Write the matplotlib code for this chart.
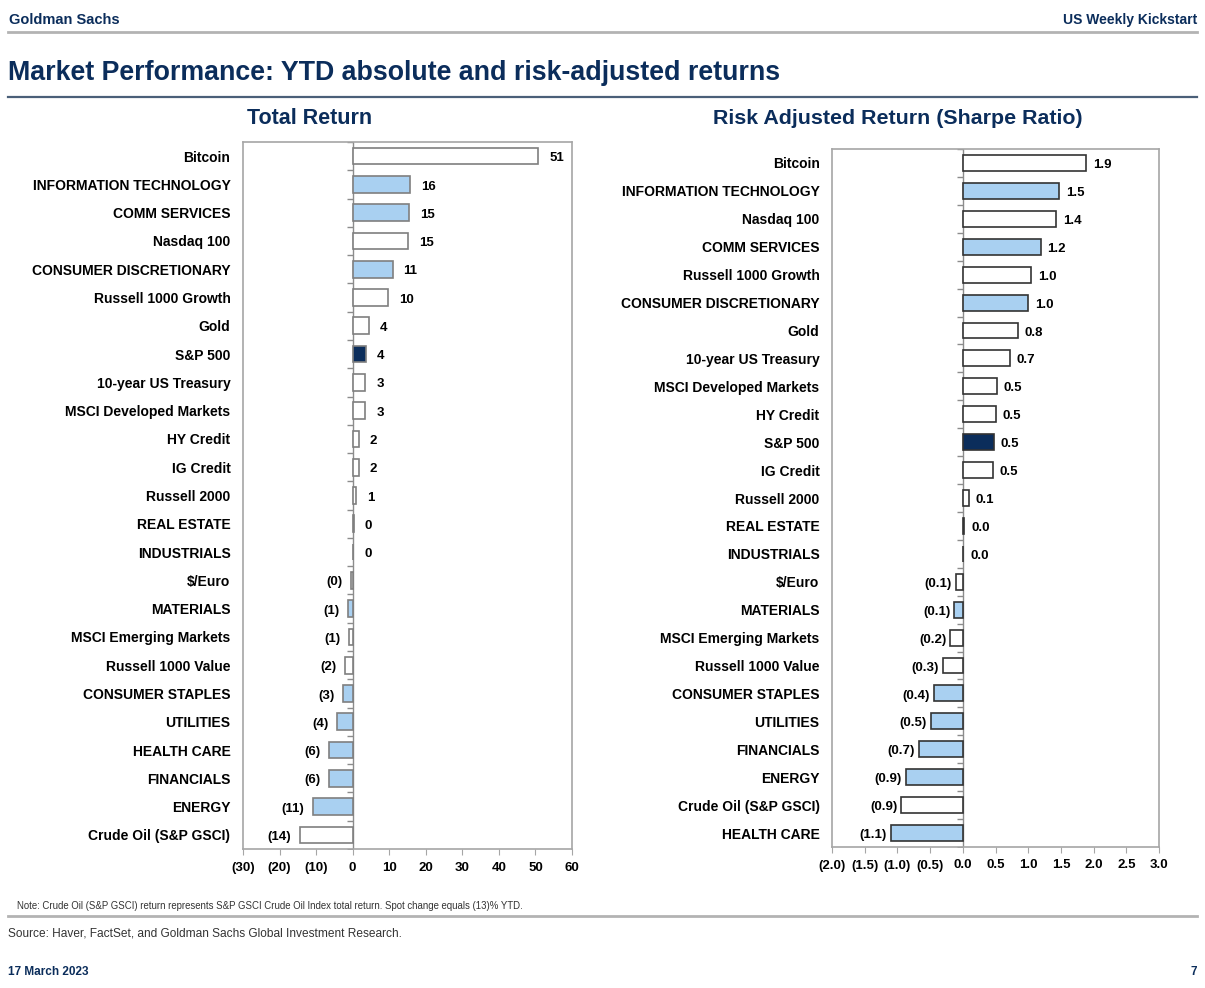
import matplotlib
matplotlib.use("Agg")
import matplotlib.pyplot as plt
import matplotlib.lines as mlines
import numpy as np

# ---------------- data ----------------
tr_categories = ["Bitcoin", "INFORMATION TECHNOLOGY", "COMM SERVICES", "Nasdaq 100",
                 "CONSUMER DISCRETIONARY", "Russell 1000 Growth", "Gold", "S&P 500",
                 "10-year US Treasury", "MSCI Developed Markets", "HY Credit", "IG Credit",
                 "Russell 2000", "REAL ESTATE", "INDUSTRIALS", "$/Euro", "MATERIALS",
                 "MSCI Emerging Markets", "Russell 1000 Value", "CONSUMER STAPLES",
                 "UTILITIES", "HEALTH CARE", "FINANCIALS", "ENERGY", "Crude Oil (S&P GSCI)"]
tr_values = [50.8, 15.7, 15.4, 15.2, 10.9, 9.6, 4.4, 3.6, 3.4, 3.4, 1.7, 1.7, 0.9, 0.3, 0.1,
             -0.4, -1.2, -1.0, -2.2, -2.7, -4.2, -6.4, -6.5, -10.9, -14.5]

sr_categories = ["Bitcoin", "INFORMATION TECHNOLOGY", "Nasdaq 100", "COMM SERVICES",
                 "Russell 1000 Growth", "CONSUMER DISCRETIONARY", "Gold", "10-year US Treasury",
                 "MSCI Developed Markets", "HY Credit", "S&P 500", "IG Credit", "Russell 2000",
                 "REAL ESTATE", "INDUSTRIALS", "$/Euro", "MATERIALS", "MSCI Emerging Markets",
                 "Russell 1000 Value", "CONSUMER STAPLES", "UTILITIES", "FINANCIALS", "ENERGY",
                 "Crude Oil (S&P GSCI)", "HEALTH CARE"]
sr_values = [1.89, 1.47, 1.43, 1.19, 1.04, 1.00, 0.84, 0.72, 0.52, 0.50, 0.47, 0.46, 0.09,
             0.02, 0.005, -0.11, -0.13, -0.19, -0.31, -0.44, -0.49, -0.67, -0.87, -0.94, -1.10]

sectors = {"INFORMATION TECHNOLOGY", "COMM SERVICES", "CONSUMER DISCRETIONARY", "REAL ESTATE",
           "INDUSTRIALS", "MATERIALS", "CONSUMER STAPLES", "UTILITIES", "HEALTH CARE",
           "FINANCIALS", "ENERGY"}
benchmark = "S&P 500"

tr_xticks = [-30, -20, -10, 0, 10, 20, 30, 40, 50, 60]
sr_xticks = [-2.0, -1.5, -1.0, -0.5, 0.0, 0.5, 1.0, 1.5, 2.0, 2.5, 3.0]

# ---------------- style ----------------
NAVY = "#0b2d5b"
BLUE = "#a9d0f1"
FRAME = "#a6a6a6"
FONT = ["Liberation Sans Narrow", "Liberation Sans", "DejaVu Sans"]
LBL_FONT = ["Liberation Sans", "DejaVu Sans"]
plt.rcParams["font.family"] = LBL_FONT

W, H = 1205, 988
fig = plt.figure(figsize=(W / 100, H / 100), dpi=100)


def fx(x):
    return x / W


def fy(y):
    return 1 - y / H


def color_for(name):
    if name == benchmark:
        return NAVY
    if name in sectors:
        return BLUE
    return "white"


def fmt_int(v):
    return f"({abs(v):.0f})" if v < 0 else f"{v:.0f}"


def fmt_1(v):
    return f"({abs(v):.1f})" if v < 0 else f"{v:.1f}"


def draw_panel(rect, cats, vals, xlim, xticks, fmt, edge, bar_h, gap_pos, gap_neg):
    ax = fig.add_axes(rect)
    n = len(cats)
    y = np.arange(n)
    colors = [color_for(c) for c in cats]
    ax.barh(y, vals, height=bar_h, color=colors, edgecolor=edge, linewidth=1.2, zorder=3)
    ax.set_xlim(*xlim)
    ax.set_ylim(n - 0.5, -0.5)
    ax.set_yticks(y)
    ax.set_yticklabels(cats, fontsize=10, fontweight="bold", family=LBL_FONT)
    ax.tick_params(axis="y", length=0, pad=9)
    ax.set_xticks(xticks)
    ax.set_xticklabels([fmt(t) for t in xticks], fontsize=9.5, fontweight="bold")
    ax.tick_params(axis="x", length=4, color=FRAME, pad=5, direction="out")
    for s in ax.spines.values():
        s.set_color(FRAME)
        s.set_linewidth(1.2)
    ax.axvline(0, color="#8c8c8c", lw=1.0, zorder=2)
    ax.plot(np.zeros(n + 1), np.arange(n + 1) - 0.5, ls="none", marker=mlines.TICKLEFT,
            ms=4, mew=1.0, color="#8c8c8c", zorder=2)
    for yi, v in zip(y, vals):
        if v >= 0:
            ax.annotate(fmt(v), (v, yi), xytext=(gap_pos, -1.5), textcoords="offset points",
                        ha="left", va="center", fontsize=9.5, fontweight="bold")
        else:
            ax.annotate(fmt(v), (v, yi), xytext=(-gap_neg, -1.5), textcoords="offset points",
                        ha="right", va="center", fontsize=9.5, fontweight="bold")
    return ax


draw_panel([fx(243), fy(849), fx(572 - 243), (849 - 142) / H],
           tr_categories, tr_values, (-30, 60), tr_xticks, fmt_int, "#7f7f7f", 0.59, 8, 6)
draw_panel([fx(832), fy(847), fx(1159 - 832), (847 - 149) / H],
           sr_categories, sr_values, (-2, 3), sr_xticks, fmt_1, "#333333", 0.57, 5, 3)

# ---------------- page decorations ----------------
fig.text(fx(9), fy(20), "Goldman Sachs", fontsize=10.5, fontweight="bold", color=NAVY,
         family=FONT, ha="left", va="center")
fig.text(fx(1197), fy(20), "US Weekly Kickstart", fontsize=10, fontweight="bold", color=NAVY,
         family=FONT, ha="right", va="center")
fig.add_artist(mlines.Line2D([fx(8), fx(1197)], [fy(32), fy(32)], color="#b3b3b3", lw=2))
fig.text(fx(8), fy(73), "Market Performance: YTD absolute and risk-adjusted returns",
         fontsize=19.3, fontweight="bold", color=NAVY, family=FONT, ha="left", va="center")
fig.add_artist(mlines.Line2D([fx(8), fx(1197)], [fy(97), fy(97)], color="#4a5f78", lw=1.6))
fig.text(fx(310), fy(119), "Total Return", fontsize=15.5, fontweight="bold", color=NAVY,
         family=FONT, ha="center", va="center")
fig.text(fx(898), fy(119), "Risk Adjusted Return (Sharpe Ratio)", fontsize=15.4,
         fontweight="bold", color=NAVY, family=FONT, ha="center", va="center")
fig.text(fx(17), fy(906), "Note: Crude Oil (S&P GSCI) return represents S&P GSCI Crude Oil Index "
         "total return. Spot change equals (13)% YTD.", fontsize=6.9, color="#333333",
         family=FONT, ha="left", va="center")
fig.add_artist(mlines.Line2D([fx(8), fx(1197)], [fy(916), fy(916)], color="#b3b3b3", lw=2))
fig.text(fx(8), fy(933), "Source: Haver, FactSet, and Goldman Sachs Global Investment Research.",
         fontsize=8.6, color="#333333", family=LBL_FONT, ha="left", va="center")
fig.text(fx(8), fy(972), "17 March 2023", fontsize=8.5, fontweight="bold", color=NAVY,
         family=FONT, ha="left", va="center")
fig.text(fx(1197), fy(972), "7", fontsize=8.5, fontweight="bold", color=NAVY,
         family=FONT, ha="right", va="center")

fig.savefig("out.png", dpi=100)
